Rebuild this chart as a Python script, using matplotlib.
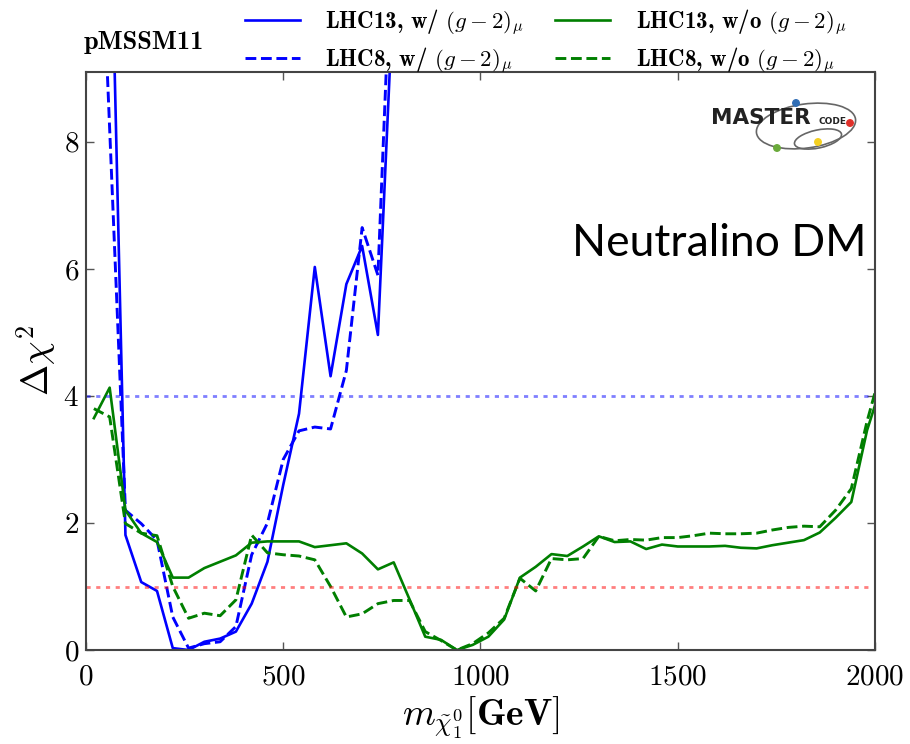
#Delta chi^2 profile vs neutralino mass, pMSSM11 (LHC13 / LHC8, with and without (g-2)_mu)

import numpy as np
import matplotlib
matplotlib.use('Agg')
import matplotlib.pyplot as plt
from matplotlib.patches import Ellipse

plt.rcParams['font.family'] = 'serif'
plt.rcParams['font.serif'] = ['cmr10', 'DejaVu Serif']
plt.rcParams['mathtext.fontset'] = 'cm'
plt.rcParams['axes.formatter.use_mathtext'] = True

#mass grid (GeV)
mass = [20, 60, 100, 140, 180, 220, 260, 300, 340, 380, 420, 460, 500, 540, 580,
        620, 660, 700, 740, 780, 820, 860, 900, 940, 980, 1020, 1060, 1100, 1140,
        1180, 1220, 1260, 1300, 1340, 1380, 1420, 1460, 1500, 1540, 1580, 1620,
        1660, 1700, 1740, 1780, 1820, 1860, 1900, 1940, 1980, 2000]

#blue curves only defined up to 820 GeV (rest is far off the plot)
mass_w = mass[:21]
lhc13_w = [20.0, 12.5, 1.81, 1.07, 0.93, 0.03, 0.0, 0.13, 0.18, 0.29, 0.73, 1.39,
           2.6, 3.72, 6.03, 4.31, 5.76, 6.36, 4.96, 10.5, 16.0]
lhc8_w = [14.2, 8.2, 2.2, 1.99, 1.73, 0.52, 0.03, 0.1, 0.13, 0.37, 1.5, 2.0,
          3.0, 3.45, 3.51, 3.48, 4.4, 6.65, 5.9, 12.0, 18.0]

lhc13_wo = [3.65, 4.13, 2.2, 1.84, 1.70, 1.14, 1.14, 1.29, 1.39, 1.49, 1.69, 1.71,
            1.71, 1.71, 1.62, 1.65, 1.68, 1.52, 1.27, 1.38, 0.8, 0.21, 0.16, 0.0,
            0.08, 0.21, 0.48, 1.14, 1.31, 1.51, 1.48, 1.63, 1.79, 1.70, 1.71, 1.59,
            1.66, 1.63, 1.63, 1.63, 1.64, 1.61, 1.60, 1.65, 1.69, 1.73, 1.85, 2.08,
            2.33, 3.46, 3.85]
lhc8_wo = [3.8, 3.67, 1.99, 1.84, 1.80, 1.0, 0.5, 0.58, 0.54, 0.79, 1.81, 1.53,
           1.50, 1.48, 1.42, 1.0, 0.52, 0.57, 0.73, 0.78, 0.78, 0.29, 0.15, 0.0,
           0.1, 0.27, 0.5, 1.13, 0.93, 1.44, 1.42, 1.44, 1.79, 1.72, 1.74, 1.73,
           1.77, 1.77, 1.80, 1.84, 1.83, 1.83, 1.84, 1.89, 1.93, 1.95, 1.94, 2.2,
           2.54, 3.6, 4.05]

blue = '#0000ff'
green = '#007f00'

fig = plt.figure(figsize=(9.1, 7.44), dpi=100)
ax = fig.add_axes([0.0945, 0.1263, 0.867, 0.777])

ax.plot(mass_w, lhc13_w, color=blue, lw=1.9, label=r'LHC13, w/ $(g-2)_\mu$')
ax.plot(mass_w, lhc8_w, color=blue, lw=2.1, ls='--', label=r'LHC8, w/ $(g-2)_\mu$')
ax.plot(mass, lhc13_wo, color=green, lw=1.9, label=r'LHC13, w/o $(g-2)_\mu$')
ax.plot(mass, lhc8_wo, color=green, lw=2.1, ls='--', label=r'LHC8, w/o $(g-2)_\mu$')

ax.axhline(4, color=blue, alpha=0.5, lw=2, ls=(0, (1.5, 2)))
ax.axhline(1, color='red', alpha=0.5, lw=2, ls=(0, (1.5, 2)))

ax.set_xlim(0, 2000)
ax.set_ylim(0, 9.1)
ax.set_xticks([0, 500, 1000, 1500, 2000])
ax.set_yticks([0, 2, 4, 6, 8])
ax.tick_params(direction='in', top=True, right=True, length=6, width=1,
               color='#555555', labelsize=21)
ax.tick_params(axis='x', pad=10)
ax.tick_params(axis='y', pad=5)
for s in ax.spines.values():
    s.set_linewidth(1.5)
    s.set_color('#444444')

ax.set_xlabel(r'$m_{\tilde{\chi}^0_1}$' + r'$\mathbf{[GeV]}$', fontsize=27, labelpad=3)
ax.set_ylabel(r'$\Delta\chi^2$', fontsize=27, labelpad=4)

leg = ax.legend(ncol=2, loc='lower left', bbox_to_anchor=(0.19, 0.979), frameon=False,
                fontsize=16.5, handlelength=2.4, handletextpad=1.1, columnspacing=1.35,
                labelspacing=0.38, borderaxespad=0)
for t in leg.get_texts():
    t.set_family(['cmb10', 'DejaVu Serif'])

fig.text(84/910, 1-42/744, 'pMSSM11', fontsize=19, va='center', ha='left',
         family=['cmb10', 'DejaVu Serif'])

fig.text(866/910, 1-256/744, 'Neutralino DM', fontsize=32, ha='right', va='baseline',
         family='Lato')

#MasterCode logo, drawn in an inset that uses pixel units
lg = fig.add_axes([700/910, 1-160/744, 160/910, 70/744])
lg.set_xlim(700, 860)
lg.set_ylim(160, 90)
lg.axis('off')
lg.add_patch(Ellipse((806, 126), 100, 44, angle=-8, fill=False, ec='#666666', lw=1.2))
lg.add_patch(Ellipse((818, 139), 48, 18, angle=-12, fill=False, ec='#666666', lw=1.2))
lg.text(711, 118, 'MASTER', fontsize=15.5, weight='bold', family='DejaVu Sans',
        color='#222222', va='center', ha='left')
lg.text(818, 121, 'CODE', fontsize=6.5, weight='bold', family='DejaVu Sans',
        color='#222222', va='center', ha='left')
dot_x = [796, 850, 777, 818]
dot_y = [103, 123, 148, 142]
dot_c = ['#2f6db5', '#e0302a', '#6aaa3a', '#f5d020']
lg.scatter(dot_x, dot_y, s=22, c=dot_c, zorder=3)

fig.savefig('out.png', dpi=100)
